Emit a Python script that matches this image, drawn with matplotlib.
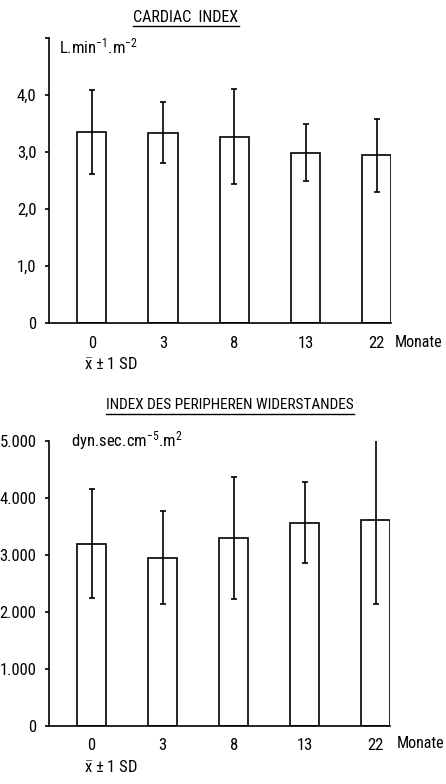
import matplotlib
matplotlib.use("Agg")
import matplotlib.pyplot as plt
from matplotlib.lines import Line2D

# schmale Schrift, wie im Original
plt.rcParams['font.family'] = ['Roboto Condensed', 'PT Sans Narrow', 'Archivo Narrow',
                               'Liberation Sans Narrow', 'DejaVu Sans']
plt.rcParams['mathtext.fontset'] = 'custom'
plt.rcParams['mathtext.rm'] = 'Roboto Condensed'
plt.rcParams['mathtext.it'] = 'Roboto Condensed'
plt.rcParams['mathtext.bf'] = 'Roboto Condensed'

# Daten
monate = ['0', '3', '8', '13', '22']
ci_mittel = [3.35, 3.34, 3.27, 2.99, 2.94]
ci_sd = [0.73, 0.54, 0.84, 0.50, 0.64]
ci_ticks = [0, 1, 2, 3, 4, 5]
ci_labels = ['0', '1,0', '2,0', '3,0', '4,0', '']

pw_mittel = [3200, 2950, 3300, 3570, 3620]
pw_sd = [960, 815, 1070, 715, 1480]
pw_ticks = [0, 1000, 2000, 3000, 4000, 5000]
pw_labels = ['0', '1.000', '2.000', '3.000', '4.000', '5.000']

W, H = 446, 784
fig = plt.figure(figsize=(W / 100, H / 100), dpi=100)


def px(x, y):
    return x / W, 1 - y / H


def balken(ax, mittel, sd, ticks, labels, ymax):
    pos = range(len(mittel))
    ax.bar(pos, mittel, width=0.41, color='white', edgecolor='black', linewidth=1.2)
    ax.errorbar(pos, mittel, yerr=sd, fmt='none', ecolor='black', elinewidth=1.2,
                capsize=2.5, capthick=1.2)
    ax.set_xlim(-0.6, 4.2)
    ax.set_ylim(0, ymax)
    ax.set_yticks(ticks)
    ax.set_yticklabels(labels)
    ax.set_xticks(list(pos))
    ax.set_xticklabels(monate)
    for s in ['top', 'right']:
        ax.spines[s].set_visible(False)
    for s in ['left', 'bottom']:
        ax.spines[s].set_linewidth(1.2)
    ax.tick_params(axis='y', length=3, width=1.2, pad=6, labelsize=12)
    ax.tick_params(axis='x', length=0, pad=9, labelsize=12)


x0, y0 = px(49, 323)
x1, y1 = px(391, 38)
ax1 = fig.add_axes([x0, y0, x1 - x0, y1 - y0])
balken(ax1, ci_mittel, ci_sd, ci_ticks, ci_labels, 5)

x0, y0 = px(49, 726)
x1, y1 = px(390, 441)
ax2 = fig.add_axes([x0, y0, x1 - x0, y1 - y0])
balken(ax2, pw_mittel, pw_sd, pw_ticks, pw_labels, 5000)

titel = []
titel.append(fig.text(*px(186, 17), 'CARDIAC  INDEX', ha='center', va='center', fontsize=11.5))
titel.append(fig.text(*px(230, 405), 'INDEX DES PERIPHEREN WIDERSTANDES', ha='center',
                      va='center', fontsize=11))

fig.text(*px(59, 46), r'L.min$^{-1}$.m$^{-2}$', ha='left', va='center', fontsize=12)
fig.text(*px(71, 441), r'dyn.sec.cm$^{-5}$.m$^{2}$', ha='left', va='center', fontsize=12)

fig.text(*px(395, 342), 'Monate', ha='left', va='center', fontsize=11.5)
fig.text(*px(397, 743), 'Monate', ha='left', va='center', fontsize=11.5)
fig.text(*px(84, 364), r'$\bar{\mathrm{x}}$ $\pm$ 1 SD', ha='left', va='center', fontsize=12)
fig.text(*px(84, 767), r'$\bar{\mathrm{x}}$ $\pm$ 1 SD', ha='left', va='center', fontsize=12)

# Unterstreichung der Titel
fig.canvas.draw()
r = fig.canvas.get_renderer()
for t in titel:
    bb = t.get_window_extent(r).transformed(fig.transFigure.inverted())
    fig.add_artist(Line2D([bb.x0, bb.x1], [bb.y0 - 0.002, bb.y0 - 0.002],
                          transform=fig.transFigure, color='black', linewidth=1.0))

fig.savefig('out.png', dpi=100)
